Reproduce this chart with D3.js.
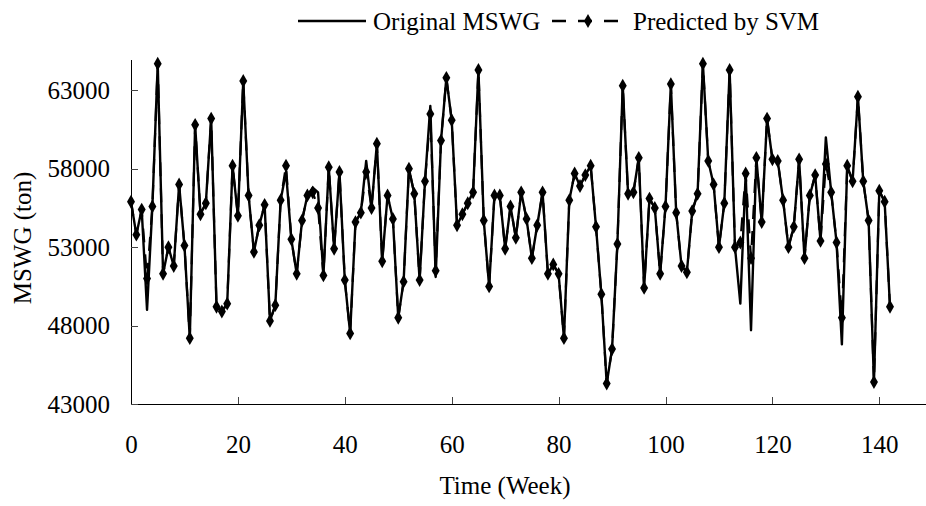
<!DOCTYPE html>
<html>
<head>
<meta charset="utf-8">
<script src="https://cdn.jsdelivr.net/npm/d3@7"></script>
<style>
    body { margin: 0; background: #fff; }
    svg { display: block; font-family: "Liberation Serif", "Times New Roman", serif; }
</style>
</head>
<body>
<div id="chart"></div>
<script>
// weekly MSWG in ton, week 0 .. 142
const ORIGINAL = [
    55900, 53800, 55400, 49000, 55600, 64700, 51300, 53000, 51800, 57000,
    53100, 47200, 60800, 55100, 55800, 61200, 49200, 48900, 49400, 58200,
    55000, 63600, 56300, 52700, 54400, 55700, 48300, 49300, 56000, 57800,
    53500, 51300, 54700, 56300, 56800, 56500, 51200, 58100, 52900, 57800,
    50900, 47500, 54600, 55200, 58500, 55500, 59600, 52100, 56300, 54800,
    48500, 50800, 58000, 56400, 50900, 57200, 62000, 51100, 59800, 63800,
    61100, 54400, 55100, 55800, 56500, 64300, 54700, 50500, 56300, 56300,
    52900, 55600, 53600, 56500, 54800, 52300, 54400, 56500, 51300, 51900,
    51300, 47200, 56000, 57700, 56900, 57600, 58200, 54300, 50000, 44300,
    46500, 53200, 63300, 56400, 56500, 58700, 50400, 56100, 55500, 51300,
    55600, 63400, 55200, 51800, 51400, 55300, 56400, 64700, 58500, 57000,
    53000, 55800, 64300, 53000, 49400, 57700, 47700, 58700, 54600, 61200,
    58600, 58500, 56000, 53000, 54300, 58600, 52300, 56300, 57600, 53400,
    60000, 56500, 53300, 46800, 58200, 57200, 62600, 57200, 54700, 44400,
    56600, 55900, 49200
];

// SVM prediction for the same weeks
const PREDICTED = [
    55900, 53800, 55400, 51000, 55600, 64700, 51300, 53000, 51800, 57000,
    53100, 47200, 60800, 55100, 55800, 61200, 49200, 48900, 49400, 58200,
    55000, 63600, 56300, 52700, 54400, 55700, 48300, 49300, 56000, 58200,
    53500, 51300, 54700, 56300, 56500, 55500, 51200, 58100, 52900, 57800,
    50900, 47500, 54600, 55200, 57800, 55500, 59600, 52100, 56300, 54800,
    48500, 50800, 58000, 56400, 50900, 57200, 61500, 51500, 59800, 63800,
    61100, 54400, 55100, 55800, 56500, 64300, 54700, 50500, 56300, 56300,
    52900, 55600, 53600, 56500, 54800, 52300, 54400, 56500, 51300, 51900,
    51300, 47200, 56000, 57700, 56900, 57600, 58200, 54300, 50000, 44300,
    46500, 53200, 63300, 56400, 56500, 58700, 50400, 56100, 55500, 51300,
    55600, 63400, 55200, 51800, 51400, 55300, 56400, 64700, 58500, 57000,
    53000, 55800, 64300, 53000, 53300, 57700, 52300, 58700, 54600, 61200,
    58600, 58500, 56000, 53000, 54300, 58600, 52300, 56300, 57600, 53400,
    58300, 56500, 53300, 48500, 58200, 57200, 62600, 57200, 54700, 44400,
    56600, 55900, 49200
];

const X_TICKS = [0, 20, 40, 60, 80, 100, 120, 140];
const Y_TICKS = [43000, 48000, 53000, 58000, 63000];
const SERIES_NAMES = ['Original MSWG', 'Predicted by SVM'];
const X_TITLE = 'Time (Week)';
const Y_TITLE = 'MSWG (ton)';

const WIDTH = 926;
const HEIGHT = 506;
const FONT_SIZE = 25;
const DASH = '14,12';

let svg = d3.select('#chart').append('svg')
    .attr('width', WIDTH)
    .attr('height', HEIGHT);

// scales - x axis runs out past the right edge like in the source figure
let x = d3.scaleLinear().domain([0, 150]).range([131, 932.75]);
let y = d3.scaleLinear().domain([43000, 65000]).range([404, 59]);

// axes with inside ticks
let xAxis = svg.append('g')
    .attr('transform', 'translate(0,404)')
    .call(d3.axisBottom(x).tickValues(X_TICKS).tickSizeInner(-7).tickSizeOuter(0).tickPadding(31));

let yAxis = svg.append('g')
    .attr('transform', 'translate(131,0)')
    .call(d3.axisLeft(y).tickValues(Y_TICKS).tickFormat(d3.format('d'))
        .tickSizeInner(-7).tickSizeOuter(0).tickPadding(21));

[xAxis, yAxis].forEach(a => {
    a.select('.domain').attr('stroke', '#000').attr('shape-rendering', 'crispEdges');
    a.selectAll('.tick line').attr('stroke', '#444').attr('shape-rendering', 'crispEdges');
    a.selectAll('.tick text')
        .attr('fill', '#000')
        .style('font-size', FONT_SIZE + 'px')
        .style('font-family', '"Liberation Serif", "Times New Roman", serif');
});

// axis titles
svg.append('text')
    .attr('x', 505)
    .attr('y', 494)
    .attr('text-anchor', 'middle')
    .style('font-size', FONT_SIZE + 'px')
    .text(X_TITLE);

svg.append('text')
    .attr('transform', 'translate(31,238) rotate(-90)')
    .attr('text-anchor', 'middle')
    .style('font-size', FONT_SIZE + 'px')
    .text(Y_TITLE);

// lines
let line = d3.line()
    .x((d, i) => x(i))
    .y(d => y(d));

let diamond = d3.symbol().type(d3.symbolDiamond).size(55);

svg.append('path')
    .datum(ORIGINAL)
    .attr('fill', 'none')
    .attr('stroke', '#000')
    .attr('stroke-width', 2.4)
    .attr('stroke-linejoin', 'round')
    .attr('d', line);

svg.append('path')
    .datum(PREDICTED)
    .attr('fill', 'none')
    .attr('stroke', '#000')
    .attr('stroke-width', 2.2)
    .attr('stroke-dasharray', DASH)
    .attr('d', line);

svg.append('g')
    .selectAll('path')
    .data(PREDICTED)
    .join('path')
    .attr('transform', (d, i) => 'translate(' + x(i) + ',' + y(d) + ')')
    .attr('d', diamond)
    .attr('fill', '#000');

// legend
let legend = svg.append('g');

legend.append('line')
    .attr('x1', 298).attr('x2', 366)
    .attr('y1', 21).attr('y2', 21)
    .attr('stroke', '#000').attr('stroke-width', 2.4);

legend.append('text')
    .attr('x', 373).attr('y', 30)
    .style('font-size', FONT_SIZE + 'px')
    .text(SERIES_NAMES[0]);

legend.append('line')
    .attr('x1', 552).attr('x2', 620)
    .attr('y1', 21).attr('y2', 21)
    .attr('stroke', '#000').attr('stroke-width', 2.6)
    .attr('stroke-dasharray', DASH);

legend.append('path')
    .attr('transform', 'translate(588,21)')
    .attr('d', diamond)
    .attr('fill', '#000');

legend.append('text')
    .attr('x', 633).attr('y', 30)
    .style('font-size', FONT_SIZE + 'px')
    .text(SERIES_NAMES[1]);
</script>
</body>
</html>
